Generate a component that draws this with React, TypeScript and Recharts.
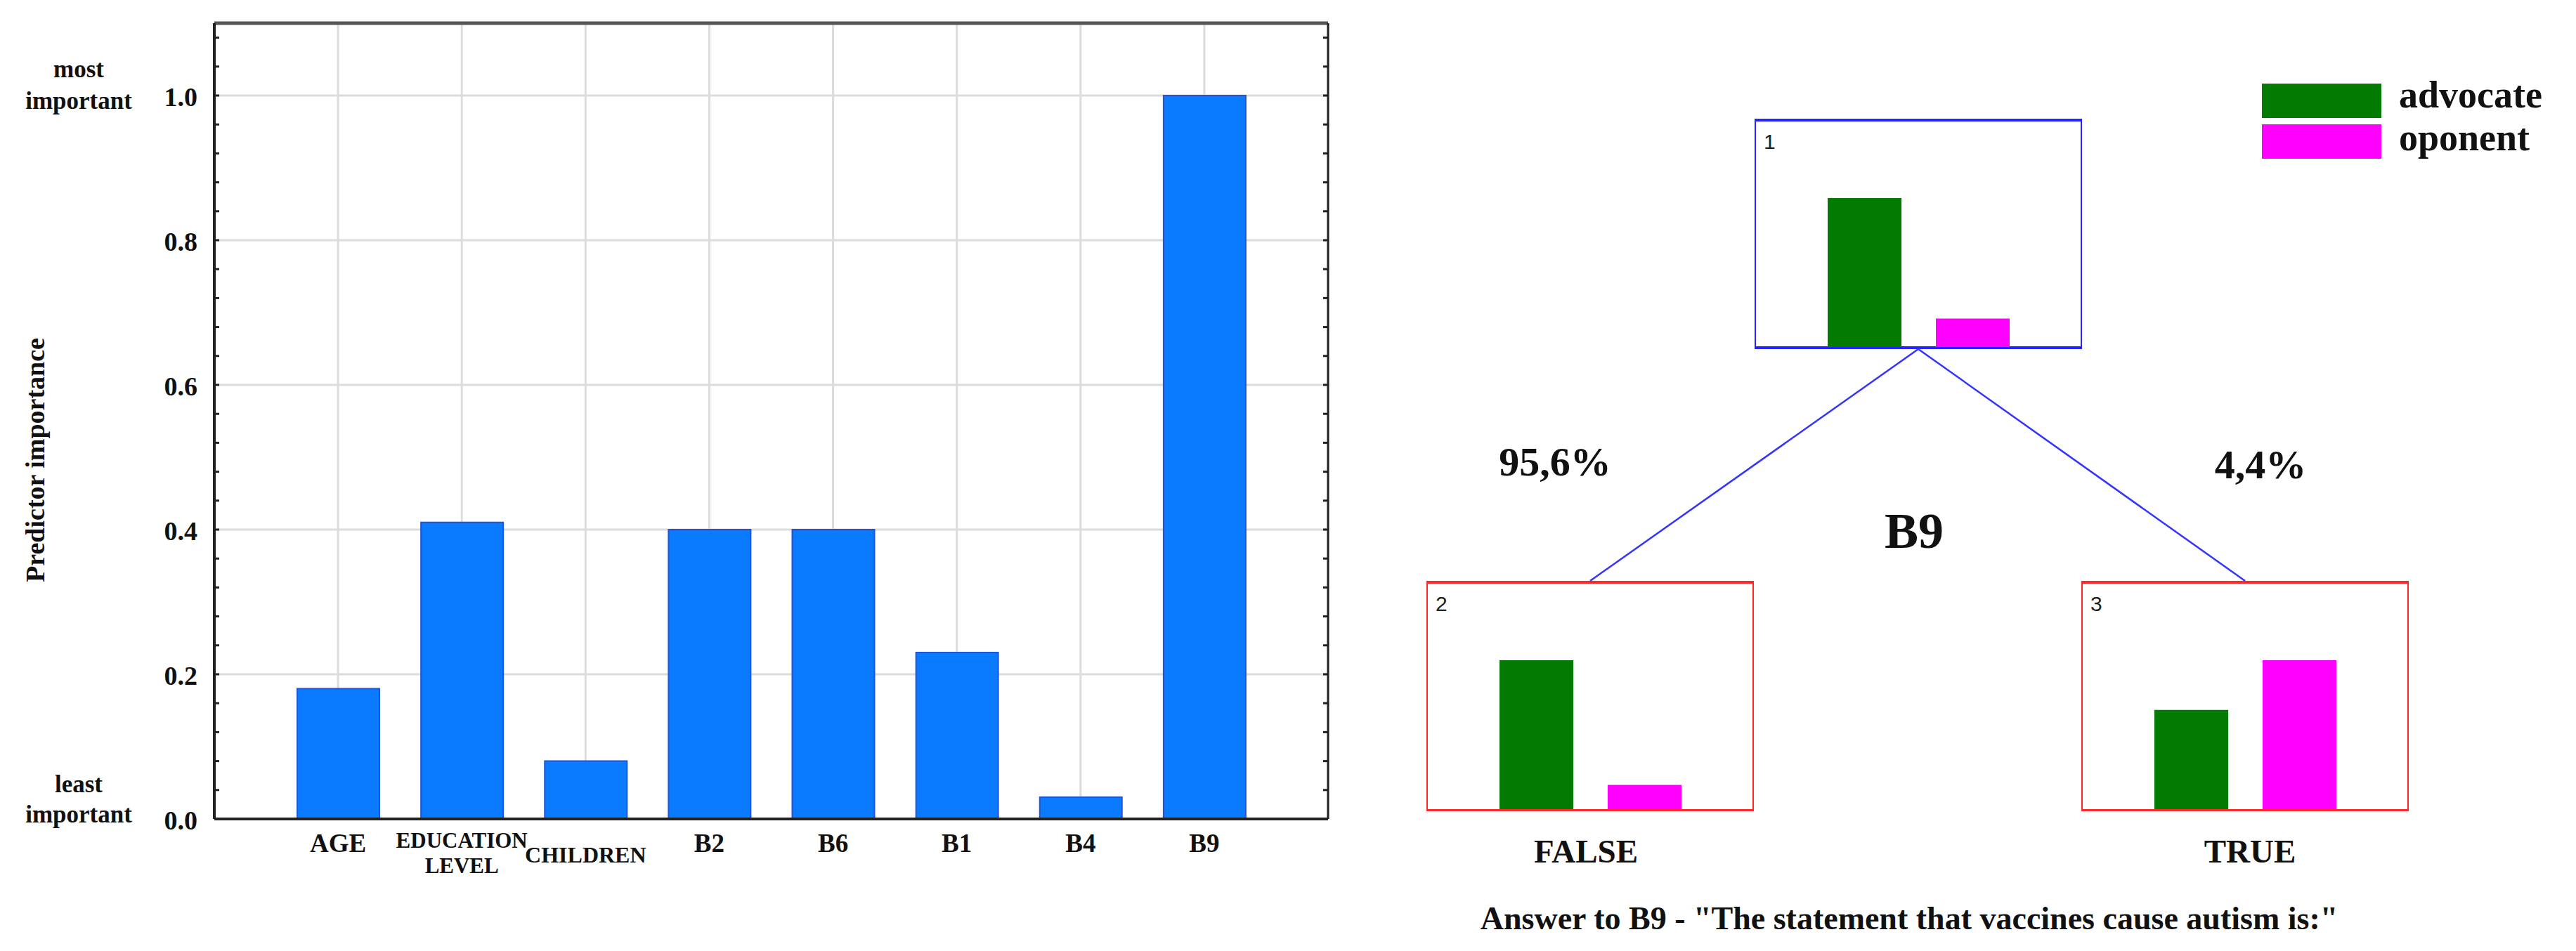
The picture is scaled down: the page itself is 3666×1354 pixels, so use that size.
import React from 'react';
import { BarChart, Bar, XAxis, YAxis, CartesianGrid, Cell } from 'recharts';

// ---------------- data ----------------
const predictors = ['AGE', 'EDUCATION LEVEL', 'CHILDREN', 'B2', 'B6', 'B1', 'B4', 'B9'];
const importance = [0.18, 0.41, 0.08, 0.40, 0.40, 0.23, 0.03, 1.0];
const majorTicks = [0, 0.2, 0.4, 0.6, 0.8, 1.0];
const gridValues = [0.2, 0.4, 0.6, 0.8, 1.0];
const tickValues = [
  0, 0.04, 0.08, 0.12, 0.16, 0.2, 0.24, 0.28, 0.32, 0.36, 0.4, 0.44, 0.48, 0.52,
  0.56, 0.6, 0.64, 0.68, 0.72, 0.76, 0.8, 0.84, 0.88, 0.92, 0.96, 1.0, 1.04, 1.08,
];
const topNote = ['most', 'important'];
const bottomNote = ['least', 'important'];
const yTitle = 'Predictor importance';

const classes = ['advocate', 'oponent'];
const classColors = ['#037B03', '#FF00FF'];
const node1Shares = [0.84, 0.16];
const node2Shares = [0.86, 0.14];
const node3Shares = [0.40, 0.60];
const nodeNumbers = ['1', '2', '3'];
const splitName = 'B9';
const branchShares = ['95,6%', '4,4%'];
const branchAnswers = ['FALSE', 'TRUE'];
const caption = 'Answer to B9 - "The statement that vaccines cause autism is:"';

const importanceData = predictors.map((name, i) => ({ name, importance: importance[i] }));

// ---------------- style ----------------
const SERIF = '"Liberation Serif", "Times New Roman", serif';
const SANS = '"Liberation Sans", Arial, sans-serif';

const NODE_W = 466;
const NODE_H = 328;
const nodes = [
  { left: 2497, top: 169, color: '#2424FF', shares: node1Shares, bw: '4px 2px 4px 2px' },
  { left: 2030, top: 827, color: '#FF2828', shares: node2Shares, bw: '4px 2px 3px 2px' },
  { left: 2962, top: 827, color: '#FF2828', shares: node3Shares, bw: '4px 2px 3px 2px' },
];

function YTickLeft(props: any) {
  const { x, y, payload } = props;
  const v = payload.value;
  const isMajor = majorTicks.includes(v);
  let note: string[] | null = null;
  let dys: number[] = [];
  if (v === 1) {
    note = topNote;
    dys = [-26, 19];
  } else if (v === 0) {
    note = bottomNote;
    dys = [-38, 5];
  }
  return (
    <g>
      <line x1={x} x2={x + 7} y1={y} y2={y} stroke="#222" strokeWidth={3} />
      {isMajor && (
        <text x={x - 24} y={y + 15} textAnchor="end" fontFamily={SERIF} fontWeight="bold" fontSize={38} fill="#111">
          {v.toFixed(1)}
        </text>
      )}
      {note &&
        note.map((w, i) => (
          <text key={i} x={112} y={y + dys[i]} textAnchor="middle" fontFamily={SERIF} fontWeight="bold" fontSize={35} fill="#111">
            {w}
          </text>
        ))}
    </g>
  );
}

function YTickRight(props: any) {
  const { x, y } = props;
  return <line x1={x} x2={x - 7} y1={y} y2={y} stroke="#222" strokeWidth={3} />;
}

function XTick(props: any) {
  const { x, y, payload } = props;
  const label = String(payload.value);
  const words = label.split(' ');
  const common = { textAnchor: 'middle' as const, fontFamily: SERIF, fontWeight: 'bold', fill: '#111' };
  if (words.length > 1) {
    return (
      <g>
        {words.map((w, i) => (
          <text key={i} x={x} y={y + 41 + i * 36} fontSize={31} {...common}>
            {w}
          </text>
        ))}
      </g>
    );
  }
  if (label.length > 4) {
    return (
      <text x={x} y={y + 62} fontSize={32} {...common}>
        {label}
      </text>
    );
  }
  return (
    <text x={x} y={y + 47} fontSize={37} {...common}>
      {label}
    </text>
  );
}

function AxisTitle() {
  return (
    <text
      x={63}
      y={655}
      transform="rotate(-90, 63, 655)"
      textAnchor="middle"
      fontFamily={SERIF}
      fontWeight="bold"
      fontSize={38}
      fill="#111"
    >
      {yTitle}
    </text>
  );
}

function NodeChart({ left, top, color, shares, bw }: any) {
  const data = classes.map((c, i) => ({ name: c, share: shares[i] }));
  return (
    <div
      style={{
        position: 'absolute',
        left,
        top,
        width: NODE_W,
        height: NODE_H,
        boxSizing: 'border-box',
        borderStyle: 'solid',
        borderColor: color,
        borderWidth: bw,
      }}
    >
      <BarChart width={462} height={NODE_H - 7} data={data} margin={{ top: 0, right: 0, bottom: 0, left: 0 }} barSize={105}>
        <XAxis dataKey="name" hide padding={{ left: 77, right: 77 }} />
        <YAxis hide type="number" allowDataOverflow domain={[0, (m: number) => m * 1.514]} />
        <Bar dataKey="share" isAnimationActive={false}>
          {data.map((d, i) => (
            <Cell key={d.name} fill={classColors[i]} />
          ))}
        </Bar>
      </BarChart>
    </div>
  );
}

export default function App() {
  const root = nodes[0];
  const rootX = root.left + NODE_W / 2;
  const rootY = root.top + NODE_H;
  const boldSerif = { fontFamily: SERIF, fontWeight: 'bold' as const, fill: '#111' };
  return (
    <div style={{ position: 'relative', width: 3666, height: 1354, background: '#fff', overflow: 'hidden' }}>
      <style>{'body{margin:0}'}</style>
      <div style={{ position: 'absolute', left: 0, top: 0 }}>
        <BarChart
          width={1950}
          height={1354}
          data={importanceData}
          margin={{ top: 32, right: 59, bottom: 38, left: 0 }}
          barSize={117}
        >
          <CartesianGrid stroke="#dcdcdc" strokeWidth={3} horizontalValues={gridValues} />
          <XAxis
            dataKey="name"
            interval={0}
            height={150}
            tickSize={0}
            tickMargin={0}
            tickLine={false}
            axisLine={{ stroke: '#222', strokeWidth: 4 }}
            padding={{ left: 88, right: 88 }}
            tick={(p: any) => <XTick {...p} />}
          />
          <XAxis
            xAxisId="top"
            orientation="top"
            dataKey="name"
            height={1}
            tick={false}
            tickLine={false}
            axisLine={{ stroke: '#555', strokeWidth: 5 }}
            padding={{ left: 88, right: 88 }}
          />
          <YAxis
            type="number"
            domain={[0, 1.1]}
            allowDataOverflow
            ticks={tickValues}
            interval={0}
            width={305}
            tickSize={0}
            tickMargin={0}
            tickLine={false}
            axisLine={{ stroke: '#222', strokeWidth: 4 }}
            tick={(p: any) => <YTickLeft {...p} />}
            label={AxisTitle}
          />
          <YAxis
            yAxisId="right"
            orientation="right"
            type="number"
            domain={[0, 1.1]}
            allowDataOverflow
            ticks={tickValues}
            interval={0}
            width={1}
            tickSize={0}
            tickMargin={0}
            tickLine={false}
            axisLine={{ stroke: '#222', strokeWidth: 3 }}
            tick={(p: any) => <YTickRight {...p} />}
          />
          <Bar dataKey="importance" fill="#0A7BFF" stroke="#2155D6" strokeWidth={2} isAnimationActive={false} />
        </BarChart>
      </div>

      {nodes.map((n, i) => (
        <NodeChart key={i} {...n} />
      ))}

      <svg
        width={3666}
        height={1354}
        style={{ position: 'absolute', left: 0, top: 0, pointerEvents: 'none' }}
      >
        {nodes.slice(1).map((n, i) => (
          <line
            key={i}
            x1={rootX}
            y1={rootY}
            x2={n.left + NODE_W / 2}
            y2={n.top}
            stroke="#3434FF"
            strokeWidth={2.5}
          />
        ))}
        {nodes.map((n, i) => (
          <text key={i} x={n.left + 13} y={n.top + 43} fontFamily={SANS} fontSize={30} fill="#222">
            {nodeNumbers[i]}
          </text>
        ))}
        <text x={2213} y={677} textAnchor="middle" fontSize={58} {...boldSerif}>
          {branchShares[0]}
        </text>
        <text x={3217} y={681} textAnchor="middle" fontSize={58} {...boldSerif}>
          {branchShares[1]}
        </text>
        <text x={2724} y={780} textAnchor="middle" fontSize={72} {...boldSerif}>
          {splitName}
        </text>
        <text x={2257} y={1228} textAnchor="middle" fontSize={47} {...boldSerif}>
          {branchAnswers[0]}
        </text>
        <text x={3202} y={1228} textAnchor="middle" fontSize={47} {...boldSerif}>
          {branchAnswers[1]}
        </text>
        <text x={2717} y={1323} textAnchor="middle" fontSize={46} {...boldSerif}>
          {caption}
        </text>
        {classes.map((c, i) => (
          <g key={c}>
            <rect x={3219} y={119 + i * 58} width={170} height={49} fill={classColors[i]} />
            <text x={3414} y={153 + i * 61} fontSize={54} {...boldSerif}>
              {c}
            </text>
          </g>
        ))}
      </svg>
    </div>
  );
}
